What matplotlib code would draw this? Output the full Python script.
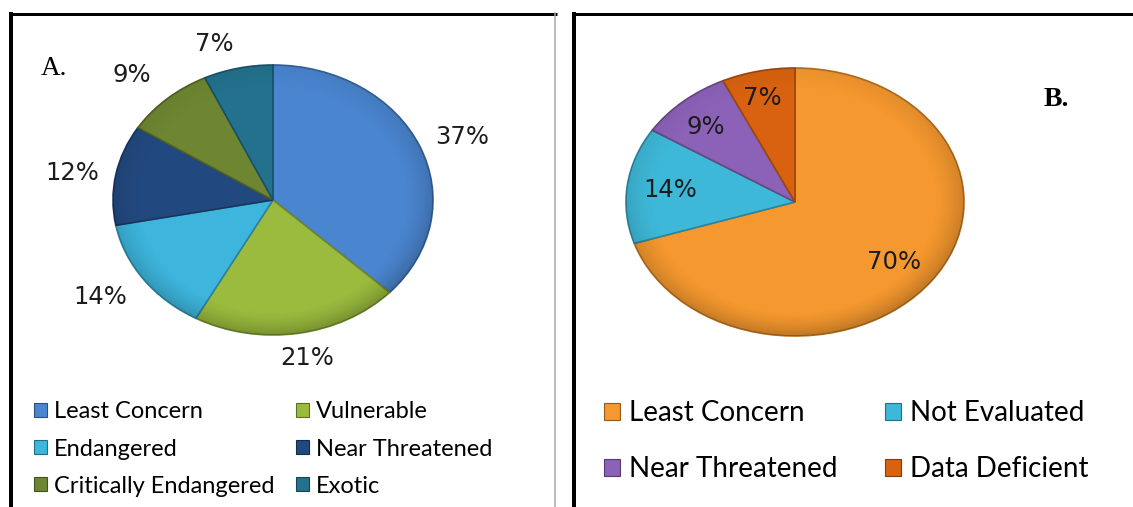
import numpy as np
import matplotlib.pyplot as plt
from matplotlib.patches import Patch, Circle
from matplotlib.colors import to_rgb

W, H = 1133, 507

# Panel A: conservation status of recorded species
a_labels = ["Least Concern", "Vulnerable", "Endangered", "Near Threatened",
            "Critically Endangered", "Exotic"]
a_values = [37, 21, 14, 12, 9, 7]
a_colors = ["#4A85CF", "#9ABB3E", "#3DB5DC", "#22497F", "#6E8632", "#23718D"]

# Panel B: IUCN categories
b_labels = ["Least Concern", "Not Evaluated", "Near Threatened", "Data Deficient"]
b_values = [70, 14, 9, 7]
b_colors = ["#F5982F", "#3EB8D8", "#8C62B9", "#D8620F"]

# percentage label placement: radial distance and angular nudge (degrees)
a_label_r = [1.27, 1.19, 1.30, 1.27, 1.28, 1.21]
a_label_da = [-1.8, 1.3, -2.4, 1.8, 2.2, 5.1]
b_label_r = [0.74, 0.745, 0.77, 0.80]
b_label_da = [-1.5, 0.5, 2.0, 1.5]


def darker(c, f=0.7):
    r, g, b = to_rgb(c)
    return (r * f, g * f, b * f)


fig = plt.figure(figsize=(W / 100, H / 100), dpi=100)

# full-figure layer in pixel units for the panel frames and panel letters
bg = fig.add_axes([0, 0, 1, 1], zorder=0)
bg.set_xlim(0, W)
bg.set_ylim(H, 0)
bg.axis("off")
px = 72 / 100
bg.plot([11, 11], [12, H], color="black", lw=4 * px, solid_capstyle="butt")
bg.plot([9, 557], [13.5, 13.5], color="black", lw=3 * px, solid_capstyle="butt")
bg.plot([555, 555], [13, H], color="#a8a8a8", lw=1.5 * px)
bg.plot([573.5, 573.5], [12, H], color="black", lw=4 * px, solid_capstyle="butt")
bg.plot([572, W], [13.5, 13.5], color="black", lw=3 * px, solid_capstyle="butt")
bg.text(41, 75, "A.", fontsize=19.5, family="Liberation Serif", ha="left", va="baseline")
bg.text(1044, 106, "B.", fontsize=20, family="Liberation Serif", weight="bold",
        ha="left", va="baseline")


def pie_axes(cx, cy, rx, ry, pad=1.35):
    ax = fig.add_axes([(cx - pad * rx) / W, 1 - (cy + pad * ry) / H,
                       2 * pad * rx / W, 2 * pad * ry / H], zorder=1)
    return ax, pad


def draw_pie(ax, pad, values, colors, label_r, label_da):
    wedges, texts, autotexts = ax.pie(
        values, colors=colors, startangle=90, counterclock=False, radius=1,
        autopct=lambda p: f"{p:.0f}%", pctdistance=1.0,
        textprops=dict(fontsize=17.5, family="DejaVu Sans", color="#1c1c1c"),
        wedgeprops=dict(linewidth=1.2))
    for w, c in zip(wedges, colors):
        w.set_edgecolor(darker(c, 0.72))
    for w, t, r, da in zip(wedges, autotexts, label_r, label_da):
        th = np.deg2rad((w.theta1 + w.theta2) / 2 + da)
        t.set_position((r * np.cos(th), r * np.sin(th)))
        t.set_zorder(5)
    # soft bevel shading toward the rim
    n = 400
    yy, xx = np.mgrid[1:-1:n * 1j, -1:1:n * 1j]
    rr = np.hypot(xx, yy)
    shade = np.zeros((n, n, 4))
    rim = np.clip((rr - 0.82) / 0.18, 0, 1) ** 1.5
    light = np.clip((yy + xx * -0.3), -1, 1)
    shade[..., 3] = 0.22 * rim * (0.6 - 0.4 * light)
    im = ax.imshow(shade, extent=(-1, 1, -1, 1), zorder=3, interpolation="bilinear")
    im.set_clip_path(Circle((0, 0), 1, transform=ax.transData))
    ax.set_xlim(-pad, pad)
    ax.set_ylim(-pad, pad)
    ax.set_aspect("auto")
    ax.axis("off")
    return wedges


axA, padA = pie_axes(273, 200, 160, 135)
draw_pie(axA, padA, a_values, a_colors, a_label_r, a_label_da)

axB, padB = pie_axes(795, 202, 169, 134)
draw_pie(axB, padB, b_values, b_colors, b_label_r, b_label_da)

# legends (row-major reading order across two columns)
orderA = [0, 2, 4, 1, 3, 5]
hA = [Patch(facecolor=a_colors[i], edgecolor=darker(a_colors[i], 0.6), lw=0.8)
      for i in orderA]
fig.legend(hA, [a_labels[i] for i in orderA], ncol=2, frameon=False,
           loc="upper left", bbox_to_anchor=(34 / W, 1 - 401.5 / H),
           prop=dict(family="Lato", size=17), borderpad=0, borderaxespad=0,
           handlelength=0.55, handleheight=0.55, handletextpad=0.3,
           labelspacing=0.68, columnspacing=0.9)

orderB = [0, 2, 1, 3]
hB = [Patch(facecolor=b_colors[i], edgecolor=darker(b_colors[i], 0.6), lw=0.8)
      for i in orderB]
fig.legend(hB, [b_labels[i] for i in orderB], ncol=2, frameon=False,
           loc="upper left", bbox_to_anchor=(604 / W, 1 - 400 / H),
           prop=dict(family="Lato", size=20), borderpad=0, borderaxespad=0,
           handlelength=0.58, handleheight=0.58, handletextpad=0.32,
           labelspacing=1.08, columnspacing=1.7)

fig.savefig("out.png", dpi=100)
